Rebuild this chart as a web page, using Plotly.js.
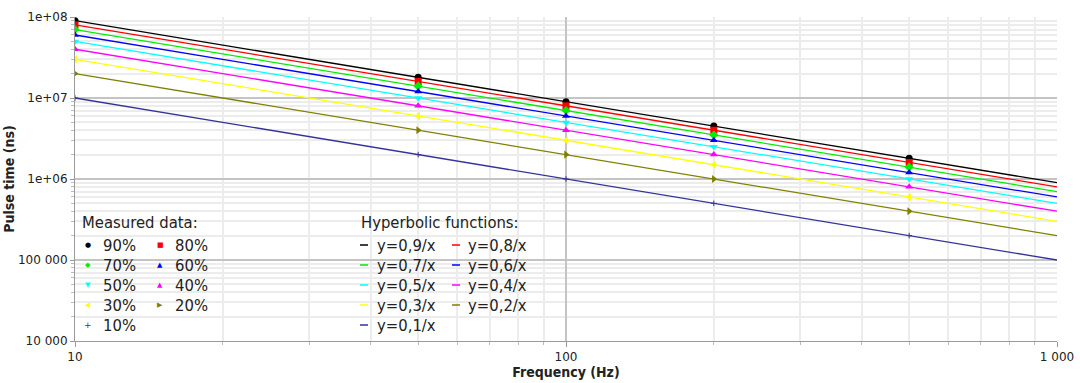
<!DOCTYPE html>
<html><head><meta charset="utf-8">
<script src="https://cdn.plot.ly/plotly-3.0.1.min.js"></script>
<style>html,body{margin:0;padding:0;background:#fff}</style>
</head><body><div id="chart" style="width:1080px;height:383px"></div>
<script>
// ---- data ----
const freqLine = [10, 1000];
const freqMeasured = [10, 50, 100, 200, 500];

const hyperLabels = ['y=0,9/x','y=0,8/x','y=0,7/x','y=0,6/x','y=0,5/x','y=0,4/x','y=0,3/x','y=0,2/x','y=0,1/x'];
const line09 = [9e7, 9e5];
const line08 = [8e7, 8e5];
const line07 = [7e7, 7e5];
const line06 = [6e7, 6e5];
const line05 = [5e7, 5e5];
const line04 = [4e7, 4e5];
const line03 = [3e7, 3e5];
const line02 = [2e7, 2e5];
const line01 = [1e7, 1e5];

const measuredLabels = ['90%','80%','70%','60%','50%','40%','30%','20%','10%'];
const meas90 = [9e7, 1.8e7, 9e6, 4.5e6, 1.8e6];
const meas80 = [8e7, 1.6e7, 8e6, 4e6, 1.6e6];
const meas70 = [7e7, 1.4e7, 7e6, 3.5e6, 1.4e6];
const meas60 = [6e7, 1.2e7, 6e6, 3e6, 1.2e6];
const meas50 = [5e7, 1e7, 5e6, 2.5e6, 1e6];
const meas40 = [4e7, 8e6, 4e6, 2e6, 8e5];
const meas30 = [3e7, 6e6, 3e6, 1.5e6, 6e5];
const meas20 = [2e7, 4e6, 2e6, 1e6, 4e5];
const meas10 = [1e7, 2e6, 1e6, 5e5, 2e5];

const xTickVals = [10, 100, 1000];
const xTickText = ['10', '100', '1 000'];
const yTickVals = [1e4, 1e5, 1e6, 1e7, 1e8];
const yTickText = ['10 000', '100 000', '1e+06', '1e+07', '1e+08'];

// ---- styles ----
const colors = ['#000000','#ff0000','#00ee00','#0000ff','#00ffff','#ff00ff','#ffff00','#808000','#333399'];
const symbols = ['circle','square','diamond','triangle-up','triangle-down','triangle-up','triangle-left','triangle-right','cross-thin'];
const glyphs = ['\u25CF','\u25A0','\u25C6','\u25B2','\u25BC','\u25B2','\u25C0','\u25B6','+'];
const msizes = [7,7,7,7,7,7,7,7,4];
const lines = [line09,line08,line07,line06,line05,line04,line03,line02,line01];
const meas = [meas90,meas80,meas70,meas60,meas50,meas40,meas30,meas20,meas10];

const FONT = "'DejaVu Sans Condensed', 'Open Sans', 'DejaVu Sans', sans-serif";
const TICKFONT = "'DejaVu Sans', 'Open Sans', sans-serif";
const TXT = '#222222';

const traces = [];
lines.forEach((v, i) => {
  traces.push({
    x: freqLine, y: v, mode: 'lines', name: hyperLabels[i],
    line: {color: colors[i], width: 1.3}
  });
});
meas.forEach((v, i) => {
  traces.push({
    x: freqMeasured, y: v, mode: 'markers', name: measuredLabels[i],
    marker: {color: colors[i], symbol: symbols[i], size: msizes[i],
             line: {color: colors[i], width: symbols[i]==='cross-thin' ? 1 : 0}}
  });
});

// ---- manual legend (two blocks, two columns each) ----
const px2x = p => (p - 75) / 982;
const px2y = p => (341 - p) / 324;
const rowsY = [245, 265, 285, 305, 325];
const annotations = [];
const shapes = [];
function addText(xp, yp, text, size, color) {
  annotations.push({xref: 'paper', yref: 'paper', x: px2x(xp), y: px2y(yp), xanchor: 'left', yanchor: 'middle',
    text: text, showarrow: false, font: {family: FONT, size: size, color: color}});
}
addText(80, 223, 'Measured data:', 16.5, TXT);
addText(359, 223, 'Hyperbolic functions:', 16.5, TXT);
measuredLabels.forEach((lab, i) => {
  const col = i % 2, row = Math.floor(i / 2);
  const gx = col === 0 ? 88 : 160;
  annotations.push({xref: 'paper', yref: 'paper', x: px2x(gx), y: px2y(rowsY[row]), xanchor: 'center', yanchor: 'middle',
    text: glyphs[i], showarrow: false, font: {family: "'DejaVu Sans', sans-serif", size: i === 8 ? 9 : 7, color: colors[i]}});
  addText(col === 0 ? 101 : 173, rowsY[row], lab, 16.5, TXT);
});
hyperLabels.forEach((lab, i) => {
  const col = i % 2, row = Math.floor(i / 2);
  const lx = col === 0 ? 360 : 452;
  shapes.push({type: 'line', xref: 'paper', yref: 'paper', x0: px2x(lx), x1: px2x(lx + 8),
    y0: px2y(rowsY[row]), y1: px2y(rowsY[row]), line: {color: colors[i], width: 1.5}});
  addText(col === 0 ? 375 : 466, rowsY[row], lab, 16.5, TXT);
});

const layout = {
  width: 1080, height: 383,
  margin: {l: 75, r: 23, t: 17, b: 42},
  paper_bgcolor: '#ffffff', plot_bgcolor: '#ffffff',
  font: {family: FONT, size: 12, color: TXT},
  showlegend: false,
  xaxis: {
    type: 'log', range: [1, 3], tickvals: xTickVals, ticktext: xTickText,
    showgrid: true, gridcolor: '#c4c4c4', gridwidth: 1.5,
    showline: true, linecolor: '#9a9a9a', linewidth: 1,
    ticks: 'outside', ticklen: 5, tickcolor: '#9a9a9a', zeroline: false,
    tickfont: {family: TICKFONT, size: 12, color: TXT},
    minor: {dtick: 'D1', showgrid: true, gridcolor: '#ececec', ticks: 'outside', ticklen: 3, tickcolor: '#bbbbbb'},
    title: {text: '<b>Frequency (Hz)</b>', font: {family: FONT, size: 14, color: TXT}, standoff: 0}
  },
  yaxis: {
    type: 'log', range: [4, 8], tickvals: yTickVals, ticktext: yTickText,
    showgrid: true, gridcolor: '#c4c4c4', gridwidth: 1.5,
    showline: true, linecolor: '#9a9a9a', linewidth: 1,
    ticks: 'outside', ticklen: 4, tickcolor: '#9a9a9a', zeroline: false,
    tickfont: {family: TICKFONT, size: 12, color: TXT},
    minor: {dtick: 'D1', showgrid: true, gridcolor: '#ececec', ticks: 'outside', ticklen: 3, tickcolor: '#bbbbbb'},
    title: {text: '<b>Pulse time (ns)</b>', font: {family: FONT, size: 14, color: TXT}, standoff: 0}
  },
  annotations: annotations,
  shapes: shapes
};

Plotly.newPlot('chart', traces, layout, {displayModeBar: false});
</script>
</body></html>
